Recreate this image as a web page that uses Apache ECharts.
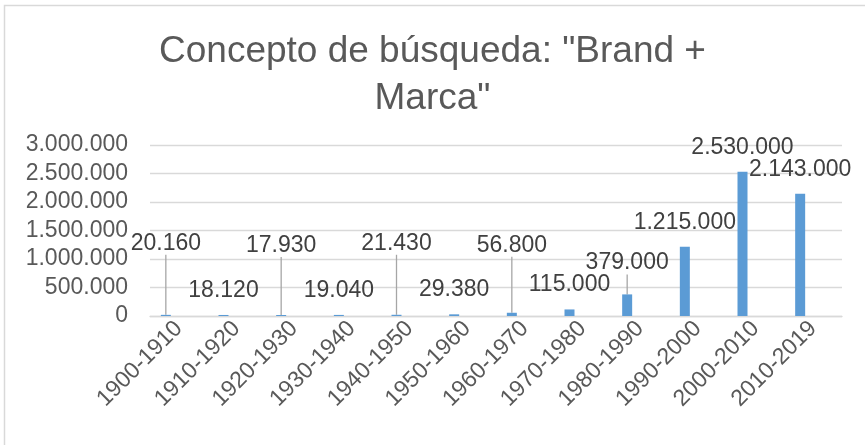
<!DOCTYPE html>
<html>
<head>
<meta charset="utf-8">
<script src="https://cdn.jsdelivr.net/npm/echarts@6/dist/echarts.min.js"></script>
<style>
  html, body { margin: 0; padding: 0; background: #fff; }
  #chart { width: 865px; height: 445px; }
</style>
</head>
<body>
<div id="chart"></div>
<script>
// categorías (décadas)
var categories = ["1900-1910", "1910-1920", "1920-1930", "1930-1940", "1940-1950", "1950-1960",
  "1960-1970", "1970-1980", "1980-1990", "1990-2000", "2000-2010", "2010-2019"];
// resultados de búsqueda
var results = [20160, 18120, 17930, 19040, 21430, 29380, 56800, 115000, 379000, 1215000, 2530000, 2143000];
// etiquetas del eje y
var yTicks = [0, 500000, 1000000, 1500000, 2000000, 2500000, 3000000];
// desplazamiento vertical de las etiquetas con línea guía
var labelShift = [-47, 0, -45, 0, -47, 0, -43, 0, -7, 0, 0, 0];

function fmt(v) {
  return String(v).replace(/\B(?=(\d{3})+(?!\d))/g, ".");
}

var barData = results.map(function (v, i) {
  return { value: v, labelLine: { show: labelShift[i] !== 0 } };
});

var myChart = echarts.init(document.getElementById("chart"));
var option = {
  animation: false,
  textStyle: { fontFamily: "Liberation Sans, Arial, sans-serif" },
  graphic: [{
    type: "rect",
    shape: { x: 4.5, y: 5.5, width: 900, height: 500 },
    style: { fill: "none", stroke: "#d9d9d9", lineWidth: 1.5 },
    silent: true
  }],
  title: {
    text: 'Concepto de búsqueda: "Brand +\nMarca"',
    left: "center",
    top: 23,
    textStyle: { fontSize: 37, fontWeight: "normal", color: "#595959", lineHeight: 47 }
  },
  grid: { left: 150, right: 23, top: 145, bottom: 129 },
  xAxis: {
    type: "category",
    data: categories,
    axisLine: { lineStyle: { color: "#d9d9d9", width: 1.3 } },
    axisTick: { show: false },
    axisLabel: { color: "#595959", fontSize: 23, rotate: 45, margin: 9, interval: 0 }
  },
  yAxis: {
    type: "value",
    min: yTicks[0],
    max: yTicks[yTicks.length - 1],
    interval: 500000,
    axisLine: { show: false },
    axisTick: { show: false },
    splitLine: { lineStyle: { color: "#d9d9d9", width: 1.3 } },
    axisLabel: { color: "#595959", fontSize: 23, margin: 22, formatter: function (v) { return fmt(v); } }
  },
  series: [
    {
      type: "bar",
      data: barData,
      barWidth: 10,
      barGap: "160%",
      itemStyle: { color: "#5b9bd5" },
      label: {
        show: true,
        position: "top",
        distance: 13,
        color: "#404040",
        fontSize: 23,
        formatter: function (p) { return fmt(p.value); }
      },
      labelLine: { lineStyle: { color: "#a6a6a6", width: 1.3 } },
      labelLayout: function (params) {
        return { dy: labelShift[params.dataIndex] };
      }
    },
    {
      type: "bar",
      data: [],
      barWidth: 10,
      silent: true
    }
  ]
};
myChart.setOption(option);
</script>
</body>
</html>
